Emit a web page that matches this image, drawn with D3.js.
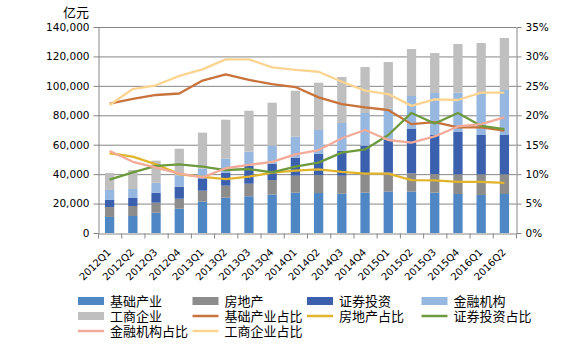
<!DOCTYPE html>
<html>
<head>
<meta charset="utf-8">
<script src="https://cdn.jsdelivr.net/npm/d3@7"></script>
<style>
  body { margin: 0; background: #fff; }
  text { font-family: "DejaVu Sans", sans-serif; fill: #000; }
  .cjk { font-family: "Noto Sans CJK SC", sans-serif; }
</style>
</head>
<body>
<svg id="chart" width="576" height="354"></svg>
<script>
// quarters on the x axis
const quarters = ["2012Q1","2012Q2","2012Q3","2012Q4","2013Q1","2013Q2","2013Q3","2013Q4",
  "2014Q1","2014Q2","2014Q3","2014Q4","2015Q1","2015Q2","2015Q3","2015Q4","2016Q1","2016Q2"];

// stacked bars, 亿元
const jichu   = [10900,11550,13800,16500,21300,24000,24950,26050,27400,27200,26700,27400,28050,28050,27400,26500,25800,26500];
const fangdi  = [6800,6800,6800,6800,7450,8150,8550,9950,11550,12200,12250,13200,12950,12550,12700,13400,14100,13400];
const zhengq  = [4750,5450,6800,8200,8450,8650,12250,11100,12250,14500,17000,18750,22700,30100,26500,28750,26700,26700];
const jinrong = [6800,6100,6800,7700,6500,9700,9500,12250,14250,16100,18800,22200,20800,22400,28550,26700,27850,30600];
const gongsh  = [11550,12900,14950,18100,24500,26500,27850,29200,31250,32150,31250,31250,31700,31950,27150,33100,34650,35300];

// share lines, %
const jichuPct   = [22.0,22.8,23.45,23.7,25.9,26.95,26.0,25.3,24.8,23.05,21.9,21.35,20.9,18.5,18.85,17.95,17.95,17.4];
const fangdiPct  = [13.55,12.97,11.67,10.0,9.55,9.17,9.57,10.25,10.6,10.8,10.4,10.1,10.1,9.0,8.95,8.7,8.7,8.5];
const zhengqPct  = [9.06,10.3,11.4,11.67,11.26,10.7,10.87,10.3,11.26,11.95,13.65,14.2,16.65,20.4,18.6,20.4,18.2,17.65];
const jinrongPct = [13.93,12.1,11.1,10.1,9.46,11.0,11.56,12.1,13.37,14.1,16.1,17.5,15.8,15.35,16.4,18.1,18.5,19.65];
const gongshPct  = [21.75,24.46,25.1,26.7,27.8,29.5,29.5,28.15,27.7,27.4,25.7,24.2,23.6,21.6,22.7,22.6,23.85,23.85];

const leftTicks = [0,20000,40000,60000,80000,100000,120000,140000];
const rightTicks = [0,5,10,15,20,25,30,35];

const barSeries = [
  {name: "基础产业", values: jichu,   color: "#4f86c4"},
  {name: "房地产",   values: fangdi,  color: "#8c8c8c"},
  {name: "证券投资", values: zhengq,  color: "#3a60ae"},
  {name: "金融机构", values: jinrong, color: "#95b7e0"},
  {name: "工商企业", values: gongsh,  color: "#bfbfbf"}
];
const lineSeries = [
  {name: "基础产业占比", values: jichuPct,   color: "#c8733c"},
  {name: "房地产占比",   values: fangdiPct,  color: "#e2b42c"},
  {name: "证券投资占比", values: zhengqPct,  color: "#6d9a3f"},
  {name: "金融机构占比", values: jinrongPct, color: "#f2ab98"},
  {name: "工商企业占比", values: gongshPct,  color: "#fbd491"}
];

const svg = d3.select("#chart");
const plotLeft = 98, plotRight = 516, plotTop = 27, plotBottom = 233;
const axisColor = "#868686";

let x = d3.scaleBand().domain(quarters).range([plotLeft, plotRight]).paddingInner(0.6).paddingOuter(0.3);
let y = d3.scaleLinear().domain([0, 140000]).range([plotBottom, plotTop]);
let y2 = d3.scaleLinear().domain([0, 35]).range([plotBottom, plotTop]);

// gridlines
svg.append("g").selectAll("line").data(leftTicks.slice(1)).enter().append("line")
  .attr("x1", plotLeft).attr("x2", plotRight)
  .attr("y1", d => y(d) + 0.5).attr("y2", d => y(d) + 0.5)
  .attr("stroke", axisColor).attr("stroke-width", 1);

// stacked bars
let table = quarters.map((q, i) => {
  let row = {q: q};
  barSeries.forEach(s => row[s.name] = s.values[i]);
  return row;
});
let stack = d3.stack().keys(barSeries.map(s => s.name))(table);

svg.append("g").selectAll("g").data(stack).enter().append("g")
  .attr("fill", (d, i) => barSeries[i].color)
  .selectAll("rect").data(d => d).enter().append("rect")
  .attr("x", d => x(d.data.q))
  .attr("width", x.bandwidth())
  .attr("y", d => y(d[1]))
  .attr("height", d => y(d[0]) - y(d[1]));

// share lines
let line = d3.line()
  .x((d, i) => x(quarters[i]) + x.bandwidth() / 2)
  .y(d => y2(d));

svg.append("g").selectAll("path").data(lineSeries).enter().append("path")
  .attr("d", d => line(d.values))
  .attr("fill", "none")
  .attr("stroke", d => d.color)
  .attr("stroke-width", 2.3)
  .attr("stroke-linejoin", "round");

// axes
function styleAxis(g) {
  g.select(".domain").attr("stroke", axisColor);
  g.selectAll(".tick line").attr("stroke", axisColor);
  g.selectAll("text").attr("font-size", "10.5px").attr("font-family", "DejaVu Sans, sans-serif");
}

let yAxis = svg.append("g").attr("transform", `translate(${plotLeft + 0.5},0)`)
  .call(d3.axisLeft(y).tickValues(leftTicks).tickSize(5).tickSizeOuter(0).tickPadding(4).tickFormat(d3.format(",")));
styleAxis(yAxis);

let y2Axis = svg.append("g").attr("transform", `translate(${plotRight + 0.5},0)`)
  .call(d3.axisRight(y2).tickValues(rightTicks).tickSize(5).tickSizeOuter(0).tickPadding(4).tickFormat(d => d + "%"));
styleAxis(y2Axis);

// bottom axis: ticks between categories
let xEdge = d3.scaleLinear().domain([0, quarters.length]).range([plotLeft, plotRight]);
let xAxis = svg.append("g").attr("transform", `translate(0,${plotBottom + 0.5})`)
  .call(d3.axisBottom(xEdge).tickValues(d3.range(quarters.length + 1)).tickSize(5).tickSizeOuter(0).tickFormat(""));
styleAxis(xAxis);

svg.append("g").selectAll("text").data(quarters).enter().append("text")
  .attr("transform", d => `translate(${x(d) + x.bandwidth() / 2 + 2},${plotBottom + 20}) rotate(-45)`)
  .attr("text-anchor", "end")
  .attr("font-size", "10px")
  .text(d => d);

// unit label
svg.append("text").attr("class", "cjk")
  .attr("x", 89).attr("y", 17)
  .attr("text-anchor", "end")
  .attr("font-size", "13px")
  .text("亿元");

// legend
let legendItems = barSeries.map(s => ({name: s.name, color: s.color, type: "bar"}))
  .concat(lineSeries.map(s => ({name: s.name, color: s.color, type: "line"})));

let legend = svg.append("g").selectAll("g").data(legendItems).enter().append("g")
  .attr("transform", (d, i) => `translate(${78 + (i % 4) * 114.5},${301 + Math.floor(i / 4) * 15})`);

legend.filter(d => d.type === "bar").append("rect")
  .attr("x", 0).attr("y", -4).attr("width", 26).attr("height", 8)
  .attr("fill", d => d.color);
legend.filter(d => d.type === "line").append("line")
  .attr("x1", 0).attr("x2", 26).attr("y1", 0).attr("y2", 0)
  .attr("stroke", d => d.color).attr("stroke-width", 2.5);
legend.append("text").attr("class", "cjk")
  .attr("x", 32).attr("y", 4.5)
  .attr("font-size", "13px")
  .text(d => d.name);
</script>
</body>
</html>
